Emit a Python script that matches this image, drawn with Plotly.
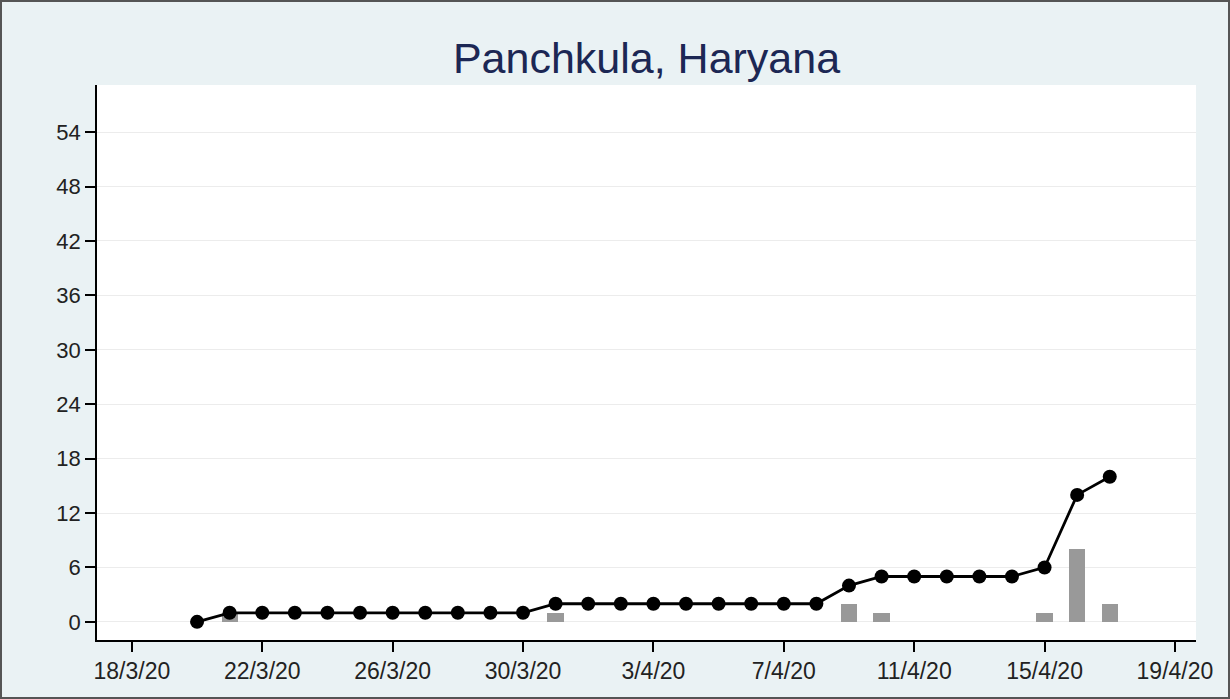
import plotly.graph_objects as go

dates = ['2020-03-20', '2020-03-21', '2020-03-22', '2020-03-23', '2020-03-24',
         '2020-03-25', '2020-03-26', '2020-03-27', '2020-03-28', '2020-03-29',
         '2020-03-30', '2020-03-31', '2020-04-01', '2020-04-02', '2020-04-03',
         '2020-04-04', '2020-04-05', '2020-04-06', '2020-04-07', '2020-04-08',
         '2020-04-09', '2020-04-10', '2020-04-11', '2020-04-12', '2020-04-13',
         '2020-04-14', '2020-04-15', '2020-04-16', '2020-04-17']
cumulative = [0, 1, 1, 1, 1, 1, 1, 1, 1, 1, 1, 2, 2, 2, 2, 2, 2, 2, 2, 2,
              4, 5, 5, 5, 5, 5, 6, 14, 16]
new_cases = [0, 1, 0, 0, 0, 0, 0, 0, 0, 0, 0, 1, 0, 0, 0, 0, 0, 0, 0, 0,
             2, 1, 0, 0, 0, 0, 1, 8, 2]

tick_dates = ['2020-03-18', '2020-03-22', '2020-03-26', '2020-03-30', '2020-04-03',
              '2020-04-07', '2020-04-11', '2020-04-15', '2020-04-19']
tick_labels = ['18/3/20', '22/3/20', '26/3/20', '30/3/20', '3/4/20',
               '7/4/20', '11/4/20', '15/4/20', '19/4/20']
y_ticks = [0, 6, 12, 18, 24, 30, 36, 42, 48, 54]

fig = go.Figure()

fig.add_trace(go.Bar(
    x=dates,
    y=new_cases,
    width=0.5 * 86400000,
    marker=dict(color='#999999', line=dict(width=0)),
    showlegend=False,
))

fig.add_trace(go.Scatter(
    x=dates,
    y=cumulative,
    mode='lines+markers',
    line=dict(color='black', width=2.8),
    marker=dict(color='black', size=14),
    showlegend=False,
))

# outer frame
fig.add_shape(type='rect', xref='paper', yref='paper',
              x0=-96 / 1099, x1=1 + 33 / 1099, y0=-58 / 555, y1=1 + 84 / 555,
              line=dict(color='#555555', width=2), fillcolor='rgba(0,0,0,0)')

fig.update_layout(
    width=1230,
    height=699,
    margin=dict(l=97, r=34, t=85, b=59),
    paper_bgcolor='#eaf2f4',
    plot_bgcolor='white',
    font=dict(family='Liberation Sans, Arial, sans-serif', size=22, color='#222222'),
    title=dict(text='Panchkula, Haryana', xref='paper', x=0.5, xanchor='center',
               y=1 - 58 / 699, yanchor='middle',
               font=dict(size=43, color='#1c2754')),
    bargap=0,
    xaxis=dict(
        type='date',
        range=['2020-03-16 22:20', '2020-04-19 15:30'],
        tickmode='array',
        tickvals=tick_dates,
        ticktext=tick_labels,
        tickfont=dict(size=23),
        showline=True,
        linecolor='black',
        linewidth=1.5,
        ticks='outside',
        ticklen=10,
        tickcolor='black',
        tickwidth=1.5,
        showgrid=False,
        zeroline=False,
    ),
    yaxis=dict(
        range=[-2, 59.2],
        tickmode='array',
        tickvals=y_ticks,
        tickfont=dict(size=22),
        showline=True,
        linecolor='black',
        linewidth=1.5,
        ticks='outside',
        ticklen=10,
        tickcolor='black',
        tickwidth=1.5,
        showgrid=True,
        gridcolor='#ececec',
        gridwidth=1,
        zeroline=False,
    ),
)

fig.write_html("out.html", config={'displayModeBar': False},
               post_script="document.body.style.margin='0';")
